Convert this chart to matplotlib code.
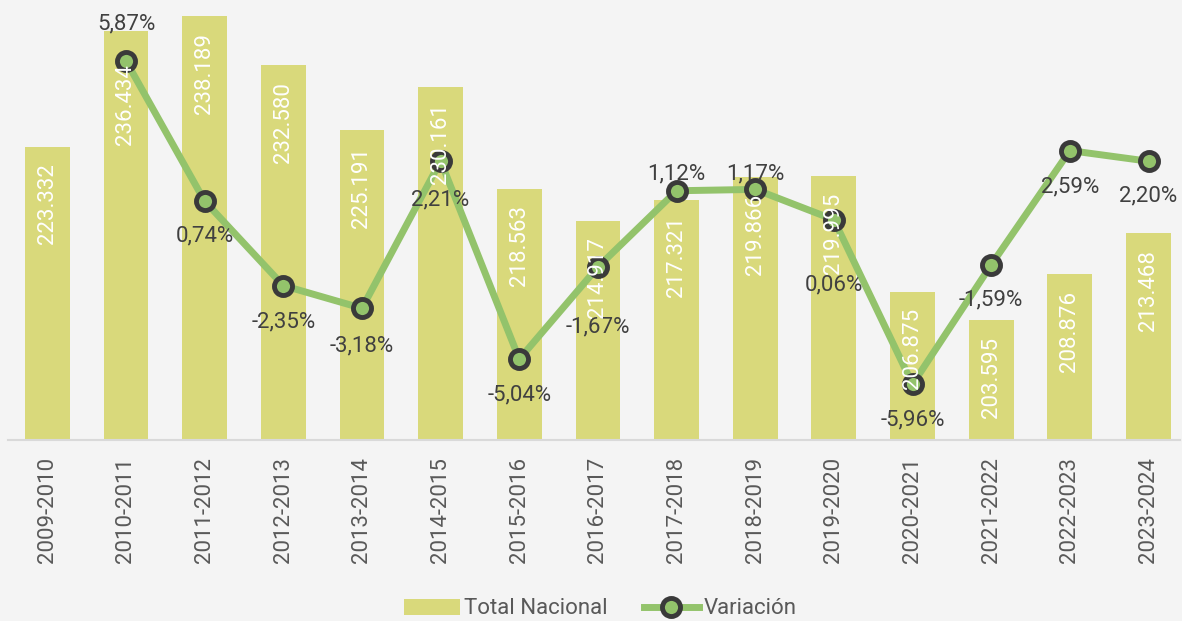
import matplotlib
matplotlib.use("Agg")
import matplotlib.pyplot as plt
from matplotlib.lines import Line2D
from matplotlib.patches import Patch

categories = ["2009-2010", "2010-2011", "2011-2012", "2012-2013", "2013-2014",
              "2014-2015", "2015-2016", "2016-2017", "2017-2018", "2018-2019",
              "2019-2020", "2020-2021", "2021-2022", "2022-2023", "2023-2024"]
total_nacional = [223332, 236434, 238189, 232580, 225191, 230161, 218563, 214917,
                  217321, 219866, 219995, 206875, 203595, 208876, 213468]
variacion = [None, 5.87, 0.74, -2.35, -3.18, 2.21, -5.04, -1.67, 1.12, 1.17,
             0.06, -5.96, -1.59, 2.59, 2.20]

# label placement (points, vertical offset from the marker / bar top)
pct_label_offset = [0, 27, -25, -26, -27, -28, -26, -43, 12, 11, -47, -26, -25, -26, -25]
bar_label_offset = [-12, -24, -12, -12, -12, -12, -12, -12, -12, -12, -12, -12, -12, -12, -12]

plt.rcParams['font.family'] = ['Roboto', 'DejaVu Sans']

BG = "#f4f4f4"
BAR = "#d9d97b"
LINE = "#93c36b"
DARK = "#3a3a3a"
TXT = "#404040"
TICK = "#595959"
FS = 16

fig = plt.figure(figsize=(11.82, 6.21), dpi=100, facecolor=BG)
ax = fig.add_axes([8/1182, 181/621, 1172/1182, 440/621])
ax.set_facecolor(BG)
x = list(range(len(categories)))
ax.bar(x, total_nacional, width=0.57, color=BAR, zorder=1)
ax.set_ylim(190000, 240000)
ax.set_xlim(-0.5, 14.4)
for s in ["top", "right", "left"]:
    ax.spines[s].set_visible(False)
ax.spines["bottom"].set_color("#d9d9d9")
ax.spines["bottom"].set_linewidth(1.5)
ax.set_yticks([])
ax.set_xticks(x)
ax.set_xticklabels(categories, rotation=90, fontsize=FS, color=TICK)
ax.tick_params(axis="x", length=0, pad=12)

ax2 = ax.twinx()
ax2.set_ylim(-8.0, 8.1)
ax2.set_yticks([])
for s in ["top", "right", "left", "bottom"]:
    ax2.spines[s].set_visible(False)
xv = [xi for xi, v in zip(x, variacion) if v is not None]
vv = [v for v in variacion if v is not None]
ax2.plot(xv, vv, color=LINE, lw=5, marker="o", markersize=13,
         markerfacecolor=LINE, markeredgecolor=DARK, markeredgewidth=3.5, zorder=3)
for xi, v, off in zip(x, variacion, pct_label_offset):
    if v is None:
        continue
    lab = f"{v:.2f}".replace(".", ",") + "%"
    ax2.annotate(lab, (xi, v), xytext=(0, off), textcoords="offset points",
                 ha="center", va="center", color=TXT, fontsize=FS, zorder=4)

# bar value labels drawn on top of the line
for xi, v, off in zip(x, total_nacional, bar_label_offset):
    lab = f"{v:,}".replace(",", ".")
    ax2.annotate(lab, (xi, v), xycoords=ax.transData, xytext=(0, off),
                 textcoords="offset points", rotation=90, ha="center", va="top",
                 color="white", fontsize=FS, zorder=5)

handles = [Patch(facecolor=BAR, edgecolor="none"),
           Line2D([0], [0], color=LINE, lw=5, marker="o", markersize=13,
                  markerfacecolor=LINE, markeredgecolor=DARK, markeredgewidth=3.5)]
fig.legend(handles, ["Total Nacional", "Variación"], loc="center",
           bbox_to_anchor=(0.508, 12/621), ncol=2, frameon=False, fontsize=FS,
           labelcolor=TICK, handlelength=2.5, handletextpad=0.2, columnspacing=1.6)

fig.savefig("out.png", dpi=100, facecolor=BG)
